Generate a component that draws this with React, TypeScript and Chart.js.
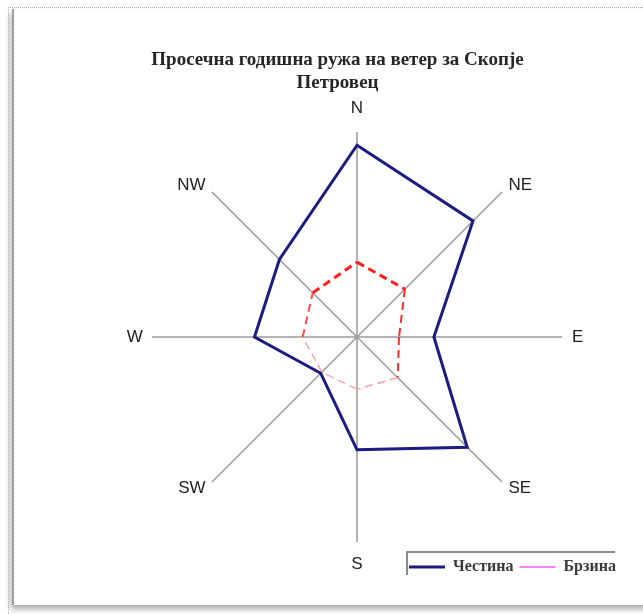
import React, { useEffect, useRef } from 'react';
import { Chart, registerables } from 'chart.js';

Chart.register(...registerables);

// ---- data ----
const directions = ['N', 'NE', 'E', 'SE', 'S', 'SW', 'W', 'NW'];
const frequency = [18.7, 16.0, 7.5, 15.2, 11.0, 5.0, 10.0, 10.7];
const speed = [7.3, 6.6, 4.1, 5.6, 5.1, 4.85, 5.3, 6.1];
const seriesNames = ['Честина', 'Брзина'];
const titleLines = ['Просечна годишна ружа на ветер за Скопје', 'Петровец'];
const scaleMax = 20;

// ---- styles ----
const speedSegColor = ['#ff1e1e', '#ff2a2a', '#ff3030', '#ff9c9c', '#ffa8a8', '#ffa0a0', '#ff4a4a', '#ff1e1e'];
const speedSegWidth = [3, 2, 2, 1.5, 1.5, 1.5, 2, 3];
const labelPad = [13, 9, 10, 9, 12, 9, 9, 9];

const placeBoxes = {
  id: 'placeBoxes',
  afterLayout(chart: any) {
    const t = chart.titleBlock;
    if (t) {
      t.left -= 18;
      t.right -= 18;
    }
    const lg = chart.legend;
    if (lg) {
      const w = lg.width;
      const h = lg.height;
      lg.left = 403;
      lg.right = 403 + w;
      lg.top = 553;
      lg.bottom = 553 + h;
    }
  },
  beforeDatasetsDraw(chart: any) {
    // per-segment dashed styling of the speed polygon (closed loop)
    const meta = chart.getDatasetMeta(1);
    const line = meta && meta.dataset;
    if (!line || !line.points) return;
    const n = line.points.length;
    line.options = { ...line.options, segment: { enabled: true } };
    line._segments = line.points.map((_: any, i: number) => ({
      start: i,
      end: (i + 1) % n,
      loop: false,
      style: {
        borderColor: speedSegColor[i % speedSegColor.length],
        borderWidth: speedSegWidth[i % speedSegWidth.length],
        borderDash: [8, 5],
        borderDashOffset: 0,
        borderCapStyle: 'butt',
        borderJoinStyle: 'miter',
      },
    }));
  },
  afterDraw(chart: any) {
    const lg = chart.legend;
    if (!lg) return;
    const ctx = chart.ctx;
    ctx.save();
    ctx.strokeStyle = '#8c8c8c';
    ctx.lineWidth = 2;
    ctx.beginPath();
    ctx.moveTo(lg.left + 4, lg.top + 22);
    ctx.lineTo(lg.left + 4, lg.top - 1);
    ctx.lineTo(lg.left + 212, lg.top - 1);
    ctx.stroke();
    ctx.restore();
  },
};

function WindRose() {
  const ref = useRef<HTMLCanvasElement | null>(null);
  useEffect(() => {
    if (!ref.current) return;
    const chart = new Chart(ref.current, {
      type: 'radar',
      data: {
        labels: directions,
        datasets: [
          {
            label: seriesNames[0],
            data: frequency,
            borderColor: '#1c1c80',
            backgroundColor: 'rgba(0,0,0,0)',
            borderWidth: 3,
            borderJoinStyle: 'miter',
            fill: false,
            pointRadius: 0,
            tension: 0,
          },
          {
            label: seriesNames[1],
            data: speed,
            borderColor: '#ff80ff',
            backgroundColor: 'rgba(0,0,0,0)',
            borderWidth: 2,
            fill: false,
            pointRadius: 0,
            tension: 0,
          },
        ],
      },
      options: {
        responsive: false,
        animation: false,
        events: [],
        layout: {
          autoPadding: false,
          padding: { top: 0, left: 117, right: 49, bottom: 6.5 },
        },
        scales: {
          r: {
            min: 0,
            max: scaleMax,
            ticks: { display: false },
            grid: { display: false },
            angleLines: { display: true, color: '#9a9a9a', lineWidth: 1.5 },
            pointLabels: {
              color: '#222',
              padding: (c: any) => labelPad[c.index],
              font: (c: any) => ({
                family: 'Liberation Sans, Arial, sans-serif',
                size: 17,
                lineHeight: c.index % 2 ? 0.001 : 1.2,
              }),
            },
          },
        },
        plugins: {
          title: {
            display: true,
            text: titleLines,
            color: '#262626',
            font: { family: 'Liberation Serif, Times New Roman, serif', size: 19, weight: 'bold', lineHeight: 1.24 },
            padding: { top: 48, bottom: 3.4 },
          },
          legend: {
            display: true,
            position: 'bottom',
            align: 'start',
            labels: {
              usePointStyle: true,
              pointStyle: 'line',
              pointStyleWidth: 36,
              padding: 6,
              color: '#3a3a3a',
              font: { family: 'Liberation Serif, Times New Roman, serif', size: 16, weight: 'bold' },
            },
          },
          tooltip: { enabled: false },
        },
      },
      plugins: [placeBoxes],
    } as any);
    return () => chart.destroy();
  }, []);
  return (
    <canvas
      ref={ref}
      width={643}
      height={614}
      style={{ position: 'absolute', left: 0, top: 0, width: 643, height: 614 }}
    />
  );
}

export default function App() {
  return (
    <div
      style={{
        position: 'fixed',
        left: 0,
        top: 0,
        width: 643,
        height: 614,
        background: '#fff',
        overflow: 'hidden',
      }}
    >
      <div
        style={{
          position: 'absolute',
          left: 8,
          top: 7,
          width: 700,
          height: 700,
          borderTop: '1px dotted #b0b0b0',
          borderLeft: '1px dotted #b0b0b0',
        }}
      />
      <div
        style={{
          position: 'absolute',
          left: 12,
          top: 9,
          width: 700,
          height: 596,
          background: '#fff',
          borderLeft: '2px solid #a0a0a0',
          boxShadow: '-1px 4px 6px rgba(0,0,0,0.35)',
        }}
      />
      <WindRose />
    </div>
  );
}
